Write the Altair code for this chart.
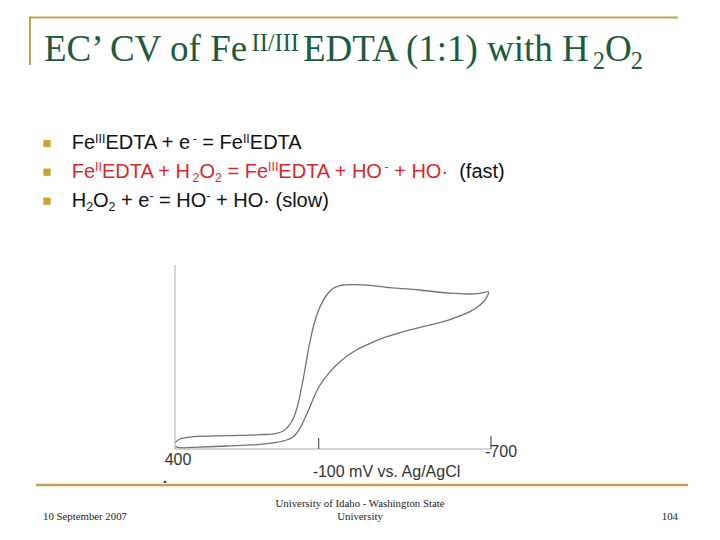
import altair as alt
import pandas as pd

# ---------------- data ----------------
# forward (cathodic) sweep 400 -> -700 mV : potential (mV) and current (arb. units)
fwd_mV = [399, 383, 336, 220, 104, 46, 23, 6, -12, -29, -41, -52, -64, -76, -88,
          -105, -128, -151, -174, -186, -221, -279, -337, -395, -453, -511, -569,
          -627, -662, -691]
fwd_cur = [6.5, 10, 12.3, 13.3, 14.3, 15.7, 18, 22.3, 30.7, 45.7, 62.3, 79, 99, 115.7, 129,
           142.3, 154, 160.7, 163.3, 164, 164.3, 163.7, 161.7, 160.3, 159, 157, 155.7,
           155, 155.7, 157]
# reverse sweep -700 -> 400 mV
rev_mV = [-683, -662, -627, -569, -511, -453, -395, -337, -279, -221, -174, -140, -105,
          -87, -70, -52, -35, -12, 11, 46, 104, 220, 336, 383, 399]
rev_cur = [150.7, 144, 137.3, 130.7, 125.7, 121.7, 117.3, 112.3, 105.7, 97.3, 87.3, 77.3, 64,
           54, 42.3, 30.7, 20.7, 12.3, 9, 6.7, 4.7, 3, 1.7, 1.3, 2.3]

axis_start = 400
axis_end = -700
y_axis_top = 184
tick_mV = [-100, -700]
tick_len = [11, 13]
tick_labels = ["400", "-700", "-100 mV vs. Ag/AgCl"]
tick_label_mV = [400, -700, -100]

title_segments = [("EC’ CV of Fe", "n"), ("II/III", "sup"), ("EDTA (1:1) with H", "n"),
                  ("2", "sub"), ("O", "n"), ("2", "sub")]
BLACK, RED = "#111111", "#D42A2B"
bullet_lines = [
    [("Fe", "n", BLACK), ("III", "sup", BLACK), ("EDTA + e", "n", BLACK), ("-", "sup", BLACK),
     (" = Fe", "n", BLACK), ("II", "sup", BLACK), ("EDTA", "n", BLACK)],
    [("Fe", "n", RED), ("II", "sup", RED), ("EDTA + H", "n", RED), ("2", "sub", RED),
     ("O", "n", RED), ("2", "sub", RED), (" = Fe", "n", RED), ("III", "sup", RED),
     ("EDTA + HO", "n", RED), ("-", "sup", RED), (" + HO·", "n", RED), ("  (fast)", "n", BLACK)],
    [("H", "n", BLACK), ("2", "sub", BLACK), ("O", "n", BLACK), ("2", "sub", BLACK),
     (" + e", "n", BLACK), ("-", "sup", BLACK), (" = HO", "n", BLACK), ("-", "sup", BLACK),
     (" + HO· (slow)", "n", BLACK)],
]
footer_left = "10 September 2007"
footer_center = ["University of Idaho - Washington State", "University"]
footer_right = "104"

# ---------------- layout ----------------
W, H = 704, 518
OFF = 8
X400, X700 = 175 - OFF, 491 - OFF
slope = (X700 - X400) / (axis_end - axis_start)
xdom = [axis_start - X400 / slope, axis_start + (W - X400) / slope]
Y0 = 449 - OFF
ydom = [Y0 - H, Y0]
xs = alt.Scale(domain=xdom, nice=False, zero=False)
ys = alt.Scale(domain=ydom, nice=False, zero=False)

GOLD = "#BBA457"
CURVE = "#727272"
AXIS = "#ABABAB"
TITLE_C = "#1D5B3B"

one = pd.DataFrame({"a": [0]})

ARIAL = {' ': 278, 'F': 611, 'e': 556, 'I': 278, 'E': 667, 'D': 722, 'T': 611, 'A': 667,
         '+': 584, '=': 584, '-': 333, 'H': 722, 'O': 778, '2': 556, '·': 333, '(': 333,
         ')': 333, 'f': 278, 'a': 556, 's': 500, 't': 278, 'l': 222, 'o': 556, 'w': 722}
TIMES = {' ': 250, 'E': 611, 'C': 667, '’': 333, 'V': 722, 'o': 500, 'f': 333, 'F': 556,
         'e': 444, 'I': 333, '/': 278, 'D': 722, 'T': 611, 'A': 722, '(': 333, '1': 500,
         ':': 278, ')': 333, 'w': 722, 'i': 278, 't': 278, 'h': 500, 'H': 722, '2': 500,
         'O': 722}


def txt(s, x, y, size, color, font, align="left"):
    return alt.Chart(one).mark_text(
        text=s, fontSize=size, color=color, font=font, align=align, baseline="alphabetic"
    ).encode(x=alt.value(x - OFF), y=alt.value(y - OFF))


def rich(segments, x0, y0, size, font, widths, scale, rise, drop, fac=1.0,
         gap_pre=0.0, gap_post=0.0, gap_sub=0.0):
    layers = []
    x = x0
    for seg in segments:
        s, kind = seg[0], seg[1]
        color = seg[2] if len(seg) > 2 else TITLE_C
        fs = size if kind == "n" else size * scale
        dy = 0 if kind == "n" else (-rise if kind == "sup" else drop)
        if kind == "sup":
            x += gap_pre
        if kind == "sub":
            x += gap_sub
        lead = len(s) - len(s.lstrip(" "))
        xs_ = x + lead * widths[' '] / 1000 * fs * fac
        layers.append(txt(s.strip(" "), xs_, y0 + dy, fs, color, font))
        x += sum(widths.get(c, 500) for c in s) / 1000 * fs * fac
        if kind == "sup":
            x += gap_post
    return layers


layers = []

# slide decorations
layers.append(alt.Chart(one).mark_rule(color=GOLD, strokeWidth=2).encode(
    x=alt.value(29 - OFF), x2=alt.value(678 - OFF), y=alt.value(17.5 - OFF)))
layers.append(alt.Chart(one).mark_rule(color=GOLD, strokeWidth=2).encode(
    x=alt.value(30 - OFF), y=alt.value(17 - OFF), y2=alt.value(65 - OFF)))
layers.append(alt.Chart(one).mark_rule(color=GOLD, strokeWidth=2.5).encode(
    x=alt.value(36 - OFF), x2=alt.value(688 - OFF), y=alt.value(485 - OFF)))

# title
layers += rich(title_segments, 44, 61, 37, "Liberation Serif", TIMES, 0.66, 10, 8,
               fac=1.0, gap_pre=1, gap_post=4, gap_sub=-1)

# bullets
bullet_y = [149, 177.7, 206.7]
sq = pd.DataFrame({"by": [b - OFF - 5.5 for b in bullet_y]})
layers.append(alt.Chart(sq).mark_square(size=52, color="#C8A42E", opacity=1).encode(
    x=alt.value(47 - OFF), y=alt.Y("by:Q", scale=None)))
for line, by in zip(bullet_lines, bullet_y):
    layers += rich(line, 71.7, by, 20, "Liberation Sans", ARIAL, 0.62, 6.5, 4)

# CV curve
pot = fwd_mV + rev_mV
cur = fwd_cur + rev_cur
df = pd.DataFrame({"mV": pot, "cur": cur, "i": list(range(len(pot)))})
layers.append(alt.Chart(df).mark_line(color=CURVE, strokeWidth=1.3, interpolate="catmull-rom").encode(
    x=alt.X("mV:Q", scale=xs, axis=None), y=alt.Y("cur:Q", scale=ys, axis=None), order="i:Q"))

# axes
ax = pd.DataFrame({"mV": [axis_start, axis_start], "mV2": [axis_end, axis_start],
                   "cur": [0, 0], "cur2": [0, y_axis_top]})
layers.append(alt.Chart(ax).mark_rule(color=AXIS, strokeWidth=1).encode(
    x=alt.X("mV:Q", scale=xs, axis=None), x2="mV2:Q",
    y=alt.Y("cur:Q", scale=ys, axis=None), y2="cur2:Q"))
tk = pd.DataFrame({"mV": tick_mV, "cur": [0, 0], "cur2": tick_len})
layers.append(alt.Chart(tk).mark_rule(color="#555555", strokeWidth=1.2).encode(
    x=alt.X("mV:Q", scale=xs, axis=None),
    y=alt.Y("cur:Q", scale=ys, axis=None), y2="cur2:Q"))
lab_y = [-16, -8, -27.5]
lab_align = ["center", "left", "left"]
lab_dx = [3, -6, -6]
for t, m, yy, al, dx in zip(tick_labels, tick_label_mV, lab_y, lab_align, lab_dx):
    ld = pd.DataFrame({"mV": [m], "cur": [yy], "t": [t]})
    layers.append(alt.Chart(ld).mark_text(fontSize=16, font="Liberation Sans", color="#333333",
                                          align=al, dx=dx, baseline="alphabetic").encode(
        x=alt.X("mV:Q", scale=xs, axis=None), y=alt.Y("cur:Q", scale=ys, axis=None), text="t:N"))

# small artifact triangle
layers.append(alt.Chart(one).mark_point(shape="triangle-up", filled=True, size=10, color="#111111",
                                        opacity=1).encode(x=alt.value(165 - OFF), y=alt.value(481.5 - OFF)))

# footer
layers.append(txt(footer_left, 43, 520, 10.8, "#222222", "Liberation Serif"))
layers.append(txt(footer_center[0], 360, 506.5, 10.8, "#222222", "Liberation Serif", "center"))
layers.append(txt(footer_center[1], 360, 520, 10.8, "#222222", "Liberation Serif", "center"))
layers.append(txt(footer_right, 678, 520, 10.8, "#222222", "Liberation Serif", "right"))

chart = alt.layer(*layers).properties(
    width=W, height=H, padding=0, autosize=alt.AutoSizeParams(type="none"), background="white"
).configure_view(stroke=None)

chart.save("out.html", embed_options={"renderer": "svg", "actions": False})
